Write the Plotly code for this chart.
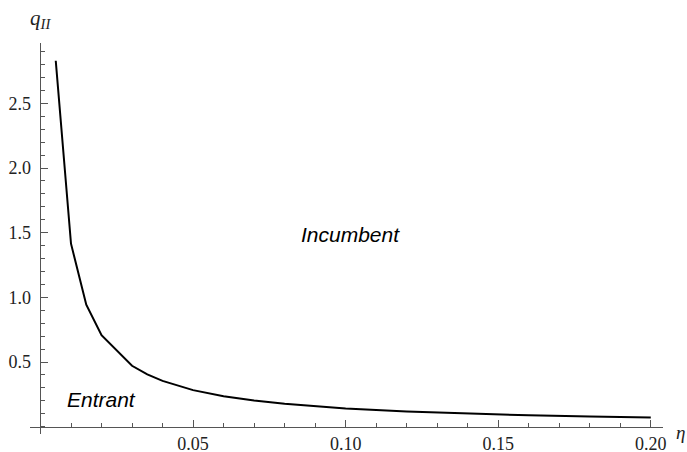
import plotly.graph_objects as go

# Data
eta = [0.005, 0.01, 0.015, 0.02, 0.03, 0.035, 0.04, 0.05, 0.06, 0.07, 0.08,
       0.09, 0.10, 0.12, 0.14, 0.16, 0.18, 0.20]
q11 = [2.83, 1.415, 0.943, 0.707, 0.471, 0.404, 0.354, 0.283, 0.236, 0.202,
       0.177, 0.157, 0.141, 0.118, 0.101, 0.088, 0.079, 0.0707]

x_ticks = [0.05, 0.10, 0.15, 0.20]
x_ticktext = ["0.05", "0.10", "0.15", "0.20"]
y_ticks = [0.5, 1.0, 1.5, 2.0, 2.5]
y_ticktext = ["0.5", "1.0", "1.5", "2.0", "2.5"]

region_labels = ["Incumbent", "Entrant"]
region_x = [0.1017, 0.0200]
region_y = [1.49, 0.21]

XR = [-0.00344, 0.204]
YR = [-0.0564, 2.967]
xpos = (0 - XR[0]) / (XR[1] - XR[0])
ypos = (0 - YR[0]) / (YR[1] - YR[0])

axis_col = "#555555"
lab_col = "#222222"
serif = "'Liberation Serif', 'Times New Roman', Times, serif"
sans = "'Liberation Sans', Arial, sans-serif"

fig = go.Figure()
fig.add_trace(go.Scatter(x=eta, y=q11, mode="lines",
                         line=dict(color="black", width=2),
                         hoverinfo="skip", showlegend=False))

for t, xx, yy in zip(region_labels, region_x, region_y):
    fig.add_annotation(x=xx, y=yy, xref="x", yref="y", text="<i>" + t + "</i>",
                       showarrow=False, font=dict(family=sans, size=21, color="black"),
                       xanchor="center", yanchor="middle")

fig.add_annotation(x=xpos, y=1.062, xref="paper", yref="paper",
                   text="<i>q<sub>II</sub></i>", showarrow=False,
                   font=dict(family=serif, size=21, color=lab_col),
                   xanchor="center", yanchor="middle")
fig.add_annotation(x=1.0284, y=0.004, xref="paper", yref="paper",
                   text="<i>η</i>", showarrow=False,
                   font=dict(family=serif, size=19, color=lab_col),
                   xanchor="center", yanchor="middle")

fig.update_layout(
    width=687, height=452,
    font=dict(family=serif, size=18, color=lab_col),
    margin=dict(l=30, r=24, t=43, b=18, autoexpand=False),
    paper_bgcolor="white", plot_bgcolor="white",
    xaxis=dict(range=XR, domain=[0, 1], anchor="free", position=ypos,
               showline=True, linecolor=axis_col, linewidth=1,
               showgrid=False, zeroline=False,
               tickmode="array", tickvals=x_ticks, ticktext=x_ticktext,
               ticks="inside", ticklen=7, tickcolor=axis_col, tickwidth=1,
               tickfont=dict(family=serif, size=18, color=lab_col),
               ticklabelstandoff=1,
               minor=dict(tick0=0, dtick=0.01, ticks="inside", ticklen=4,
                          tickcolor=axis_col, tickwidth=1, showgrid=False),
               automargin=False, fixedrange=True),
    yaxis=dict(range=YR, domain=[0, 1], anchor="free", position=xpos,
               showline=True, linecolor=axis_col, linewidth=1,
               showgrid=False, zeroline=False,
               tickmode="array", tickvals=y_ticks, ticktext=y_ticktext,
               ticks="inside", ticklen=7, tickcolor=axis_col, tickwidth=1,
               tickfont=dict(family=serif, size=18, color=lab_col),
               ticklabelstandoff=6,
               minor=dict(tick0=0, dtick=0.1, ticks="inside", ticklen=4,
                          tickcolor=axis_col, tickwidth=1, showgrid=False),
               automargin=False, fixedrange=True),
)

fig.write_html("out.html")
